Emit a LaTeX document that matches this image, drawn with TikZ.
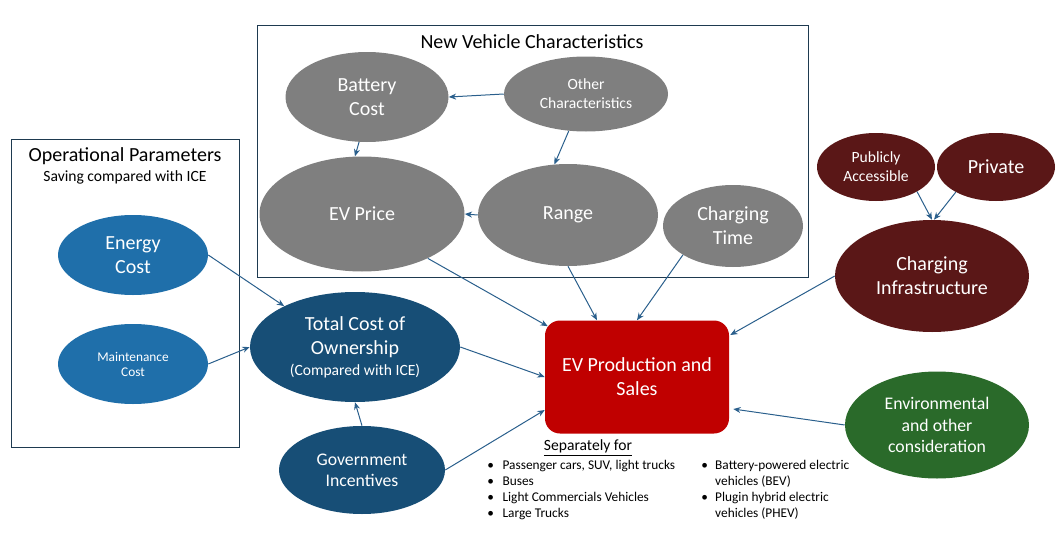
\documentclass[tikz,border=0pt]{standalone}
\usepackage{fontspec}
\setmainfont{Carlito}
\usetikzlibrary{shapes.geometric,arrows.meta}
\definecolor{grayfill}{HTML}{7F7F7F}
\definecolor{lblue}{HTML}{1F6FAA}
\definecolor{dblue}{HTML}{174E76}
\definecolor{dred}{HTML}{5A1717}
\definecolor{dgreen}{HTML}{2A6A2A}
\definecolor{evred}{HTML}{C00000}
\definecolor{arrowc}{HTML}{2A5F8C}
\definecolor{framec}{HTML}{1E3A50}
\newcommand{\fbig}{\fontsize{15}{18}\selectfont}
\newcommand{\fmid}{\fontsize{13.3}{16}\selectfont}
\newcommand{\fsmall}{\fontsize{11.7}{14.2}\selectfont}
\newcommand{\ftiny}{\fontsize{10}{11.3}\selectfont}
\tikzset{
  el/.style 2 args={ellipse, draw=none, inner sep=0pt, minimum width=#1*0.75pt, minimum height=#2*0.75pt, text=white, align=center},
  arr/.style={draw=arrowc, line width=0.75pt, -{Stealth[length=5.5pt,width=4.5pt]}},
  frame/.style={draw=framec, line width=0.75pt},
  lbl/.style={inner sep=0pt, align=center, text=black},
}
\begin{document}
\begin{tikzpicture}[x=0.75pt,y=-0.75pt]
\useasboundingbox (0,0) rectangle (1058,543);
% frames
\draw[frame] (257,25) rectangle (808,277);
\draw[frame] (11,139) rectangle (239,447);
\node[lbl, font=\fbig] (nvct) at (532,42) {New Vehicle Characteristics};
\node[lbl, font=\fbig] (opt) at (125,156) {Operational Parameters};
\node[lbl, font=\fsmall] (ops) at (125,177) {Saving compared with ICE};
% gray nodes
\node[el={163}{90}, fill=grayfill, font=\fbig] (bat) at (367,97) {Battery\\Cost};
\node[el={164}{75}, fill=grayfill, font=\fsmall] (oth) at (586,94) {Other\\Characteristics};
\node[el={205}{115}, fill=grayfill, font=\fbig] (evp) at (362,214) {EV Price};
\node[el={180}{102}, fill=grayfill, font=\fbig] (rng) at (568,215) {Range};
\node[el={140}{82}, fill=grayfill, font=\fbig] (ct) at (733,226) {Charging\\Time};
% blue nodes
\node[el={150}{80}, fill=lblue, font=\fbig] (ec) at (133,255) {Energy\\Cost};
\node[el={150}{80}, fill=lblue, font=\ftiny] (mc) at (133,364) {Maintenance\\Cost};
\node[el={210}{110}, fill=dblue, font=\fbig] (tco) at (355,347) {Total Cost of\\Ownership\\[-2pt]{\fsmall (Compared with ICE)}};
\node[el={166}{88}, fill=dblue, font=\fmid] (gi) at (362,470) {Government\\Incentives};
% main
\node[draw=none, fill=evred, rounded corners=15*0.75pt, minimum width=184*0.75pt, minimum height=113*0.75pt, inner sep=0pt, text=white, align=center, font=\fbig] (evps) at (637,377) {EV Production and\\Sales};
% right
\node[el={118}{68}, fill=dred, font=\fsmall] (pa) at (876,167) {Publicly\\Accessible};
\node[el={118}{68}, fill=dred, font=\fbig] (pr) at (996,167) {Private};
\node[el={194}{112}, fill=dred, font=\fbig] (ci) at (932,276) {Charging\\Infrastructure};
\node[el={184}{107}, fill=dgreen, font=\fmid] (env) at (937,425) {Environmental\\and other\\consideration};
% texts below
\node[lbl, font=\fsmall] (sep) at (588,448) {\underline{Separately for}};
\node[lbl, anchor=north west, align=left, font=\fontsize{10}{12}\selectfont] (bl) at (487,458) {%
\begin{tabular}{@{}l@{\hspace{6.5pt}}l@{}}
•&Passenger cars, SUV, light trucks\\
•&Buses\\
•&Light Commercials Vehicles\\
•&Large Trucks
\end{tabular}};
\node[lbl, anchor=north west, align=left, font=\fontsize{10}{12}\selectfont] (br) at (701,458) {%
\begin{tabular}{@{}l@{\hspace{5.5pt}}l@{}}
•&Battery-powered electric\\
&vehicles (BEV)\\
•&Plugin hybrid electric\\
&vehicles (PHEV)
\end{tabular}};
% arrows
\draw[arr] (oth.west) -- (bat.east);
\draw[arr] (bat.-100) -- (evp.97);
\draw[arr] (oth.-115) -- (rng.105);
\draw[arr] (rng.west) -- (evp.east);
\draw[arr] (evp.-34) -- ([shift={(3,6)}]evps.north west);
\draw[arr] (rng.south) -- ([xshift=-30pt]evps.north);
\draw[arr] (ct.210) -- (evps.north);
\draw[arr] (ec.east) -- (tco.150);
\draw[arr] (mc.east) -- (tco.west);
\draw[arr] (gi.north) -- (tco.south);
\draw[arr] (tco.east) -- (evps.west);
\draw[arr] (gi.east) -- ([shift={(0,33)}]evps.west);
\draw[arr] (ci.west) -- ([shift={(1,-42)}]evps.east);
\draw[arr] (pa.-31) -- (ci.north);
\draw[arr] (pr.212) -- ([xshift=1.5pt]ci.north);
\draw[arr] (env.west) -- ([shift={(4,32)}]evps.east);
\end{tikzpicture}
\end{document}
